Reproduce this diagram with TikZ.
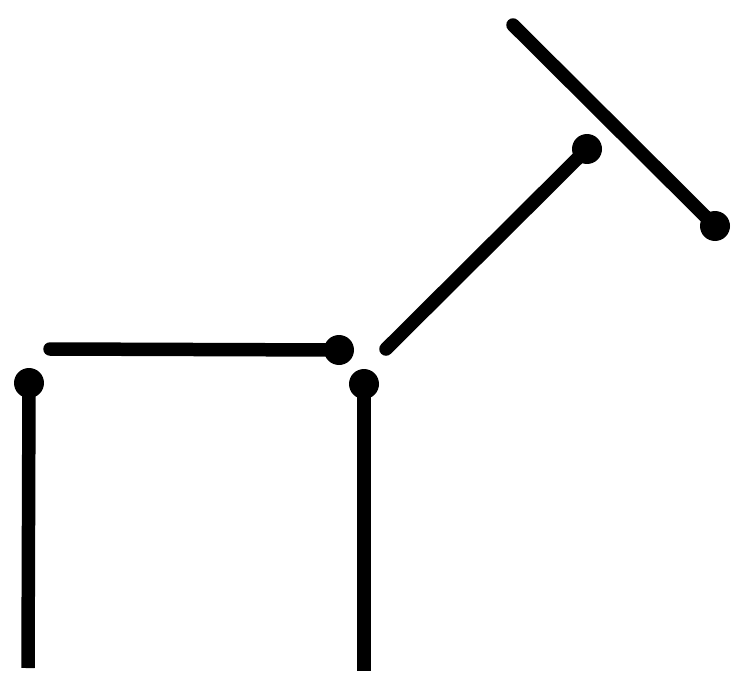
\documentclass[tikz,border=0pt]{standalone}
\begin{document}
\begin{tikzpicture}[x=0.02cm,y=-0.02cm,
  bar/.style={line width=0.27cm, black},
  dot/.style={circle, fill=black, inner sep=0pt, minimum size=0.6cm}]
\useasboundingbox (0,0) rectangle (737,676);
% dots
\node[dot] (d1) at (29,383) {};
\node[dot] (d2) at (339,350) {};
\node[dot] (d3) at (364,384) {};
\node[dot] (d4) at (587,149) {};
\node[dot] (d5) at (715,226) {};
% free ends
\coordinate (e1) at (28,668);
\coordinate (e2) at (50,349);
\coordinate (e3) at (364,671);
\coordinate (e4) at (386,349);
\coordinate (e5) at (513,25);
% segments
\draw[bar] (d1.center) -- (e1);
\draw[bar, line cap=round] (e2) -- (d2.center);
\draw[bar] (d3.center) -- (e3);
\draw[bar, line cap=round] (e4) -- (d4.center);
\draw[bar, line cap=round] (e5) -- (d5.center);
\end{tikzpicture}
\end{document}
